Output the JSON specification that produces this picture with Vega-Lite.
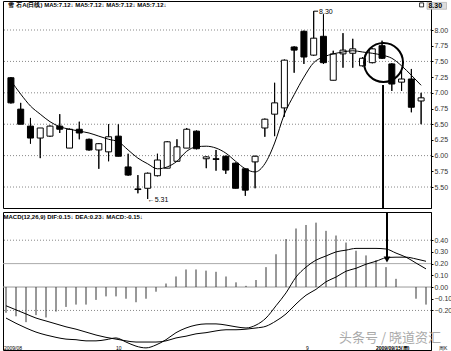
{
  "$schema": "https://vega.github.io/schema/vega-lite/v6.json",
  "padding": {"left": 2, "top": 0, "right": 0, "bottom": 0},
  "background": "white",
  "spacing": 0,
  "config": {
    "view": {"stroke": "#000", "strokeWidth": 1},
    "font": "Liberation Sans",
    "text": {"font": "Liberation Sans"}
  },
  "datasets": {
    "k": [
      {"i": 1, "open": 7.24, "close": 6.84, "high": 7.25, "low": 6.83, "ma": 7.19, "macd": -0.22, "dif": -0.265, "dea": -0.16},
      {"i": 2, "open": 6.74, "close": 6.50, "high": 6.84, "low": 6.50, "ma": 6.98, "macd": -0.25, "dif": -0.31, "dea": -0.195},
      {"i": 3, "open": 6.47, "close": 6.28, "high": 6.60, "low": 6.19, "ma": 6.79, "macd": -0.30, "dif": -0.35, "dea": -0.23},
      {"i": 4, "open": 6.28, "close": 6.44, "high": 6.44, "low": 5.96, "ma": 6.66, "macd": -0.24, "dif": -0.385, "dea": -0.265},
      {"i": 5, "open": 6.31, "close": 6.47, "high": 6.48, "low": 6.30, "ma": 6.54, "macd": -0.26, "dif": -0.41, "dea": -0.29},
      {"i": 6, "open": 6.47, "close": 6.42, "high": 6.66, "low": 6.36, "ma": 6.46, "macd": -0.21, "dif": -0.43, "dea": -0.315},
      {"i": 7, "open": 6.12, "close": 6.42, "high": 6.43, "low": 6.12, "ma": 6.42, "macd": -0.17, "dif": -0.445, "dea": -0.34},
      {"i": 8, "open": 6.42, "close": 6.36, "high": 6.54, "low": 6.26, "ma": 6.39, "macd": -0.15, "dif": -0.45, "dea": -0.36},
      {"i": 9, "open": 6.26, "close": 6.09, "high": 6.27, "low": 6.08, "ma": 6.36, "macd": -0.15, "dif": -0.46, "dea": -0.385},
      {"i": 10, "open": 6.09, "close": 6.19, "high": 6.20, "low": 5.79, "ma": 6.31, "macd": -0.11, "dif": -0.46, "dea": -0.41},
      {"i": 11, "open": 6.06, "close": 6.30, "high": 6.50, "low": 5.91, "ma": 6.26, "macd": -0.08, "dif": -0.45, "dea": -0.43},
      {"i": 12, "open": 6.31, "close": 5.99, "high": 6.50, "low": 5.99, "ma": 6.22, "macd": -0.08, "dif": -0.435, "dea": -0.445},
      {"i": 13, "open": 5.82, "close": 5.69, "high": 6.03, "low": 5.68, "ma": 6.09, "macd": -0.10, "dif": -0.47, "dea": -0.46},
      {"i": 14, "open": 5.47, "close": 5.46, "high": 5.69, "low": 5.40, "ma": 5.96, "macd": -0.13, "dif": -0.505, "dea": -0.47},
      {"i": 15, "open": 5.48, "close": 5.72, "high": 5.73, "low": 5.31, "ma": 5.87, "macd": -0.10, "dif": -0.52, "dea": -0.47},
      {"i": 16, "open": 5.68, "close": 5.93, "high": 6.03, "low": 5.67, "ma": 5.79, "macd": -0.04, "dif": -0.495, "dea": -0.47},
      {"i": 17, "open": 5.80, "close": 6.22, "high": 6.23, "low": 5.80, "ma": 5.82, "macd": 0.03, "dif": -0.45, "dea": -0.46},
      {"i": 18, "open": 5.91, "close": 6.14, "high": 6.26, "low": 5.91, "ma": 5.91, "macd": 0.09, "dif": -0.39, "dea": -0.435},
      {"i": 19, "open": 6.12, "close": 6.42, "high": 6.44, "low": 6.12, "ma": 6.07, "macd": 0.15, "dif": -0.35, "dea": -0.42},
      {"i": 20, "open": 6.39, "close": 6.11, "high": 6.40, "low": 6.10, "ma": 6.14, "macd": 0.15, "dif": -0.325, "dea": -0.40},
      {"i": 21, "open": 5.95, "close": 5.98, "high": 5.99, "low": 5.80, "ma": 6.15, "macd": 0.14, "dif": -0.315, "dea": -0.39},
      {"i": 22, "open": 5.95, "close": 5.94, "high": 6.09, "low": 5.76, "ma": 6.12, "macd": 0.13, "dif": -0.315, "dea": -0.375},
      {"i": 23, "open": 5.99, "close": 5.77, "high": 6.00, "low": 5.71, "ma": 6.04, "macd": 0.09, "dif": -0.325, "dea": -0.365},
      {"i": 24, "open": 5.88, "close": 5.48, "high": 5.89, "low": 5.48, "ma": 5.91, "macd": 0.04, "dif": -0.34, "dea": -0.365},
      {"i": 25, "open": 5.79, "close": 5.45, "high": 5.79, "low": 5.36, "ma": 5.79, "macd": 0.01, "dif": -0.35, "dea": -0.36},
      {"i": 26, "open": 5.90, "close": 5.99, "high": 6.00, "low": 5.48, "ma": 5.74, "macd": 0.06, "dif": -0.325, "dea": -0.35},
      {"i": 27, "open": 6.44, "close": 6.58, "high": 6.59, "low": 6.30, "ma": 5.87, "macd": 0.17, "dif": -0.265, "dea": -0.335},
      {"i": 28, "open": 6.66, "close": 6.84, "high": 7.16, "low": 6.31, "ma": 6.20, "macd": 0.28, "dif": -0.16, "dea": -0.29},
      {"i": 29, "open": 6.76, "close": 7.52, "high": 7.53, "low": 6.62, "ma": 6.66, "macd": 0.41, "dif": -0.05, "dea": -0.23},
      {"i": 30, "open": 7.73, "close": 7.68, "high": 7.74, "low": 7.32, "ma": 6.97, "macd": 0.50, "dif": 0.085, "dea": -0.145},
      {"i": 31, "open": 7.98, "close": 7.57, "high": 7.99, "low": 7.46, "ma": 7.25, "macd": 0.53, "dif": 0.17, "dea": -0.07},
      {"i": 32, "open": 7.60, "close": 7.87, "high": 8.30, "low": 7.59, "ma": 7.48, "macd": 0.55, "dif": 0.23, "dea": -0.02},
      {"i": 33, "open": 7.90, "close": 7.48, "high": 8.25, "low": 7.46, "ma": 7.57, "macd": 0.48, "dif": 0.265, "dea": 0.045},
      {"i": 34, "open": 7.20, "close": 7.62, "high": 7.67, "low": 7.20, "ma": 7.62, "macd": 0.44, "dif": 0.30, "dea": 0.085},
      {"i": 35, "open": 7.62, "close": 7.68, "high": 7.95, "low": 7.40, "ma": 7.65, "macd": 0.38, "dif": 0.315, "dea": 0.135},
      {"i": 36, "open": 7.63, "close": 7.70, "high": 7.86, "low": 7.40, "ma": 7.67, "macd": 0.31, "dif": 0.33, "dea": 0.16},
      {"i": 37, "open": 7.43, "close": 7.55, "high": 7.57, "low": 7.42, "ma": 7.65, "macd": 0.27, "dif": 0.33, "dea": 0.195},
      {"i": 38, "open": 7.48, "close": 7.70, "high": 7.71, "low": 7.47, "ma": 7.63, "macd": 0.23, "dif": 0.33, "dea": 0.22},
      {"i": 39, "open": 7.75, "close": 7.55, "high": 7.83, "low": 7.54, "ma": 7.60, "macd": 0.17, "dif": 0.325, "dea": 0.25},
      {"i": 40, "open": 7.46, "close": 7.14, "high": 7.47, "low": 7.03, "ma": 7.55, "macd": 0.07, "dif": 0.29, "dea": 0.255},
      {"i": 41, "open": 7.17, "close": 7.22, "high": 7.35, "low": 7.03, "ma": 7.43, "macd": 0.0, "dif": 0.255, "dea": 0.255},
      {"i": 42, "open": 7.22, "close": 6.77, "high": 7.38, "low": 6.69, "ma": 7.28, "macd": -0.10, "dif": 0.205, "dea": 0.24},
      {"i": 43, "open": 6.87, "close": 6.92, "high": 7.00, "low": 6.50, "ma": 7.12, "macd": -0.15, "dif": 0.155, "dea": 0.22}
    ]
  },
  "vconcat": [
    {
      "width": 428,
      "height": 207,
      "resolve": {"axis": {"y": "independent"}},
      "layer": [
        {
          "data": {"name": "k"},
          "mark": {"type": "rule", "color": "#000", "strokeWidth": 1},
          "encoding": {
            "x": {"field": "i", "type": "quantitative", "scale": {"domain": [0.7, 43.5], "nice": false, "zero": false}, "axis": null},
            "y": {"field": "low", "type": "quantitative", "scale": {"domain": [5.166, 8.462], "nice": false, "zero": false},
              "axis": {"orient": "right", "title": null, "values": [5.5, 5.75, 6, 6.25, 6.5, 6.75, 7, 7.25, 7.5, 7.75, 8], "format": ".2f",
                "labelFontSize": 7, "labelColor": "#333", "tickSize": 2, "tickColor": "#000", "domainColor": "#000", "labelPadding": 1, "grid": false}},
            "y2": {"field": "high"}
          }
        },
        {"data": {"values": [{}]}, "mark": {"type": "rule", "color": "#888", "strokeWidth": 1, "strokeDash": [1, 2]},
          "encoding": {"y": {"datum": 8.0, "type": "quantitative", "scale": {"domain": [5.166, 8.462], "nice": false, "zero": false}, "axis": null}}},
        {"data": {"values": [{}]}, "mark": {"type": "rule", "color": "#888", "strokeWidth": 1, "strokeDash": [1, 2]},
          "encoding": {"y": {"datum": 7.5, "type": "quantitative", "scale": {"domain": [5.166, 8.462], "nice": false, "zero": false}, "axis": null}}},
        {"data": {"values": [{}]}, "mark": {"type": "rule", "color": "#888", "strokeWidth": 1, "strokeDash": [1, 2]},
          "encoding": {"y": {"datum": 7.0, "type": "quantitative", "scale": {"domain": [5.166, 8.462], "nice": false, "zero": false}, "axis": null}}},
        {"data": {"values": [{}]}, "mark": {"type": "rule", "color": "#888", "strokeWidth": 1, "strokeDash": [1, 2]},
          "encoding": {"y": {"datum": 6.5, "type": "quantitative", "scale": {"domain": [5.166, 8.462], "nice": false, "zero": false}, "axis": null}}},
        {"data": {"values": [{}]}, "mark": {"type": "rule", "color": "#888", "strokeWidth": 1, "strokeDash": [1, 2]},
          "encoding": {"y": {"datum": 6.0, "type": "quantitative", "scale": {"domain": [5.166, 8.462], "nice": false, "zero": false}, "axis": null}}},
        {"data": {"values": [{}]}, "mark": {"type": "rule", "color": "#888", "strokeWidth": 1, "strokeDash": [1, 2]},
          "encoding": {"y": {"datum": 5.5, "type": "quantitative", "scale": {"domain": [5.166, 8.462], "nice": false, "zero": false}, "axis": null}}},
        {
          "data": {"name": "k"},
          "mark": {"type": "rule", "color": "#000", "strokeWidth": 1},
          "encoding": {
            "x": {"field": "i", "type": "quantitative", "scale": {"domain": [0.7, 43.5], "nice": false, "zero": false}, "axis": null},
            "y": {"field": "low", "type": "quantitative", "scale": {"domain": [5.166, 8.462], "nice": false, "zero": false}, "axis": null},
            "y2": {"field": "high"}
          }
        },
        {
          "data": {"name": "k"},
          "mark": {"type": "bar", "size": 6, "stroke": "#000", "strokeWidth": 1},
          "encoding": {
            "x": {"field": "i", "type": "quantitative", "scale": {"domain": [0.7, 43.5], "nice": false, "zero": false}, "axis": null},
            "y": {"field": "open", "type": "quantitative", "scale": {"domain": [5.166, 8.462], "nice": false, "zero": false}, "axis": null},
            "y2": {"field": "close"},
            "fill": {"condition": {"test": "datum.close < datum.open", "value": "#000"}, "value": "#fff"}
          }
        },
        {
          "data": {"name": "k"},
          "mark": {"type": "line", "color": "#000", "strokeWidth": 1, "interpolate": "monotone"},
          "encoding": {
            "x": {"field": "i", "type": "quantitative", "scale": {"domain": [0.7, 43.5], "nice": false, "zero": false}, "axis": null},
            "y": {"field": "ma", "type": "quantitative", "scale": {"domain": [5.166, 8.462], "nice": false, "zero": false}, "axis": null}
          }
        },
        {
          "data": {"values": [{}]},
          "mark": {"type": "point", "shape": "circle", "filled": false, "stroke": "#000", "strokeWidth": 2, "size": 1520, "opacity": 1},
          "encoding": {
            "x": {"datum": 39.15, "type": "quantitative", "scale": {"domain": [0.7, 43.5], "nice": false, "zero": false}, "axis": null},
            "y": {"datum": 7.482, "type": "quantitative", "scale": {"domain": [5.166, 8.462], "nice": false, "zero": false}, "axis": null}
          }
        },
        {
          "data": {"values": [{}]},
          "mark": {"type": "rule", "color": "#000", "strokeWidth": 2},
          "encoding": {
            "x": {"datum": 39.1, "type": "quantitative", "scale": {"domain": [0.7, 43.5], "nice": false, "zero": false}, "axis": null},
            "y": {"datum": 7.124, "type": "quantitative", "scale": {"domain": [5.166, 8.462], "nice": false, "zero": false}, "axis": null},
            "y2": {"datum": 5.166}
          }
        },
        {
          "data": {"values": [{}]},
          "mark": {"type": "rule", "color": "#000", "strokeWidth": 1},
          "encoding": {
            "x": {"datum": 32, "type": "quantitative", "scale": {"domain": [0.7, 43.5], "nice": false, "zero": false}, "axis": null},
            "x2": {"datum": 32.45},
            "y": {"datum": 8.3, "type": "quantitative", "scale": {"domain": [5.166, 8.462], "nice": false, "zero": false}, "axis": null}
          }
        },
        {
          "data": {"values": [{}]},
          "mark": {"type": "text", "align": "left", "baseline": "middle", "fontSize": 7, "color": "#000"},
          "encoding": {
            "x": {"datum": 32.55, "type": "quantitative", "scale": {"domain": [0.7, 43.5], "nice": false, "zero": false}, "axis": null},
            "y": {"datum": 8.285, "type": "quantitative", "scale": {"domain": [5.166, 8.462], "nice": false, "zero": false}, "axis": null},
            "text": {"value": "8.30"}
          }
        },
        {
          "data": {"values": [{}]},
          "mark": {"type": "text", "align": "left", "baseline": "middle", "fontSize": 7, "color": "#000"},
          "encoding": {
            "x": {"datum": 15.0, "type": "quantitative", "scale": {"domain": [0.7, 43.5], "nice": false, "zero": false}, "axis": null},
            "y": {"datum": 5.3, "type": "quantitative", "scale": {"domain": [5.166, 8.462], "nice": false, "zero": false}, "axis": null},
            "text": {"value": "←5.31"}
          }
        },
        {
          "data": {"values": [{}]},
          "mark": {"type": "text", "align": "left", "baseline": "middle", "fontSize": 6, "color": "#000", "fontWeight": "bold"},
          "encoding": {
            "x": {"datum": 0.75, "type": "quantitative", "scale": {"domain": [0.7, 43.5], "nice": false, "zero": false}, "axis": null},
            "y": {"datum": 8.395, "type": "quantitative", "scale": {"domain": [5.166, 8.462], "nice": false, "zero": false}, "axis": null},
            "text": {"value": "雪 石A(日线) MA5:7.12↓  MA5:7.12↓  MA5:7.12↓  MA5:7.12↓"}
          }
        },
        {
          "data": {"values": [{}]},
          "mark": {"type": "rect", "fill": "#ddd", "stroke": "#999", "strokeWidth": 0.5},
          "encoding": {
            "x": {"datum": 43.6, "type": "quantitative", "scale": {"domain": [0.7, 43.5], "nice": false, "zero": false}, "axis": null},
            "x2": {"datum": 45.6},
            "y": {"datum": 8.44, "type": "quantitative", "scale": {"domain": [5.166, 8.462], "nice": false, "zero": false}, "axis": null},
            "y2": {"datum": 8.33}
          }
        },
        {
          "data": {"values": [{}]},
          "mark": {"type": "text", "align": "left", "baseline": "middle", "fontSize": 7, "color": "#000", "fontWeight": "bold"},
          "encoding": {
            "x": {"datum": 43.75, "type": "quantitative", "scale": {"domain": [0.7, 43.5], "nice": false, "zero": false}, "axis": null},
            "y": {"datum": 8.385, "type": "quantitative", "scale": {"domain": [5.166, 8.462], "nice": false, "zero": false}, "axis": null},
            "text": {"value": "8.30"}
          }
        },
        {
          "data": {"values": [{}]},
          "mark": {"type": "point", "shape": "square", "filled": false, "stroke": "#000", "strokeWidth": 0.8, "size": 16, "opacity": 1},
          "encoding": {
            "x": {"datum": 43.05, "type": "quantitative", "scale": {"domain": [0.7, 43.5], "nice": false, "zero": false}, "axis": null},
            "y": {"datum": 8.40, "type": "quantitative", "scale": {"domain": [5.166, 8.462], "nice": false, "zero": false}, "axis": null}
          }
        }
      ]
    },
    {
      "width": 428,
      "height": 138,
      "resolve": {"axis": {"y": "independent"}},
      "layer": [
        {
          "data": {"values": [{}]},
          "mark": {"type": "rule", "color": "#999", "strokeWidth": 1},
          "encoding": {
            "y": {"datum": 0, "type": "quantitative", "scale": {"domain": [-0.538, 0.641], "nice": false, "zero": false},
              "axis": {"orient": "right", "title": null, "values": [-0.2, -0.1, 0, 0.1, 0.2, 0.3, 0.4], "format": ".2f",
                "labelFontSize": 7, "labelColor": "#333", "tickSize": 2, "tickColor": "#000", "domainColor": "#000", "labelPadding": 1, "grid": false}}
          }
        },
        {"data": {"values": [{}]}, "mark": {"type": "rule", "color": "#888", "strokeWidth": 1, "strokeDash": [1, 2]},
          "encoding": {"y": {"datum": 0.4, "type": "quantitative", "scale": {"domain": [-0.538, 0.641], "nice": false, "zero": false}, "axis": null}}},
        {"data": {"values": [{}]}, "mark": {"type": "rule", "color": "#aaa", "strokeWidth": 1},
          "encoding": {"y": {"datum": 0.2, "type": "quantitative", "scale": {"domain": [-0.538, 0.641], "nice": false, "zero": false}, "axis": null}}},
        {"data": {"values": [{}]}, "mark": {"type": "rule", "color": "#888", "strokeWidth": 1, "strokeDash": [1, 2]},
          "encoding": {"y": {"datum": -0.2, "type": "quantitative", "scale": {"domain": [-0.538, 0.641], "nice": false, "zero": false}, "axis": null}}},
        {
          "data": {"name": "k"},
          "mark": {"type": "rule", "color": "#333", "strokeWidth": 1},
          "encoding": {
            "x": {"field": "i", "type": "quantitative", "scale": {"domain": [0.7, 43.5], "nice": false, "zero": false}, "axis": null},
            "y": {"field": "macd", "type": "quantitative", "scale": {"domain": [-0.538, 0.641], "nice": false, "zero": false}, "axis": null},
            "y2": {"datum": 0}
          }
        },
        {
          "data": {"name": "k"},
          "mark": {"type": "line", "color": "#000", "strokeWidth": 1, "interpolate": "monotone"},
          "encoding": {
            "x": {"field": "i", "type": "quantitative", "scale": {"domain": [0.7, 43.5], "nice": false, "zero": false}, "axis": null},
            "y": {"field": "dif", "type": "quantitative", "scale": {"domain": [-0.538, 0.641], "nice": false, "zero": false}, "axis": null}
          }
        },
        {
          "data": {"name": "k"},
          "mark": {"type": "line", "color": "#000", "strokeWidth": 1, "interpolate": "monotone"},
          "encoding": {
            "x": {"field": "i", "type": "quantitative", "scale": {"domain": [0.7, 43.5], "nice": false, "zero": false}, "axis": null},
            "y": {"field": "dea", "type": "quantitative", "scale": {"domain": [-0.538, 0.641], "nice": false, "zero": false}, "axis": null}
          }
        },
        {
          "data": {"values": [{}]},
          "mark": {"type": "rule", "color": "#000", "strokeWidth": 2},
          "encoding": {
            "x": {"datum": 39.1, "type": "quantitative", "scale": {"domain": [0.7, 43.5], "nice": false, "zero": false}, "axis": null},
            "y": {"datum": 0.641, "type": "quantitative", "scale": {"domain": [-0.538, 0.641], "nice": false, "zero": false}, "axis": null},
            "y2": {"datum": 0.25}
          }
        },
        {
          "data": {"values": [{}]},
          "mark": {"type": "point", "shape": "triangle-down", "filled": true, "color": "#000", "size": 45, "opacity": 1},
          "encoding": {
            "x": {"datum": 39.1, "type": "quantitative", "scale": {"domain": [0.7, 43.5], "nice": false, "zero": false}, "axis": null},
            "y": {"datum": 0.235, "type": "quantitative", "scale": {"domain": [-0.538, 0.641], "nice": false, "zero": false}, "axis": null}
          }
        },
        {
          "data": {"values": [{}]},
          "mark": {"type": "text", "align": "left", "baseline": "middle", "fontSize": 6, "color": "#000", "fontWeight": "bold"},
          "encoding": {
            "x": {"datum": 0.75, "type": "quantitative", "scale": {"domain": [0.7, 43.5], "nice": false, "zero": false}, "axis": null},
            "y": {"datum": 0.598, "type": "quantitative", "scale": {"domain": [-0.538, 0.641], "nice": false, "zero": false}, "axis": null},
            "text": {"value": "MACD(12,26,9)  DIF:0.15↓  DEA:0.23↓  MACD:-0.15↓"}
          }
        },
        {
          "data": {"values": [{}]},
          "mark": {"type": "text", "align": "left", "baseline": "middle", "fontSize": 13, "color": "#aaa", "font": "Noto Sans CJK SC"},
          "encoding": {
            "x": {"datum": 34.3, "type": "quantitative", "scale": {"domain": [0.7, 43.5], "nice": false, "zero": false}, "axis": null},
            "y": {"datum": -0.435, "type": "quantitative", "scale": {"domain": [-0.538, 0.641], "nice": false, "zero": false}, "axis": null},
            "text": {"value": "头条号 / 晓道资汇"}
          }
        },
        {
          "data": {"values": [{}]},
          "mark": {"type": "text", "align": "left", "baseline": "middle", "fontSize": 5, "color": "#000"},
          "encoding": {
            "x": {"datum": 0.8, "type": "quantitative", "scale": {"domain": [0.7, 43.5], "nice": false, "zero": false}, "axis": null},
            "y": {"datum": -0.525, "type": "quantitative", "scale": {"domain": [-0.538, 0.641], "nice": false, "zero": false}, "axis": null},
            "text": {"value": "2009/08"}
          }
        },
        {
          "data": {"values": [{}]},
          "mark": {"type": "text", "align": "left", "baseline": "middle", "fontSize": 5, "color": "#000"},
          "encoding": {
            "x": {"datum": 12.0, "type": "quantitative", "scale": {"domain": [0.7, 43.5], "nice": false, "zero": false}, "axis": null},
            "y": {"datum": -0.525, "type": "quantitative", "scale": {"domain": [-0.538, 0.641], "nice": false, "zero": false}, "axis": null},
            "text": {"value": "10"}
          }
        },
        {
          "data": {"values": [{}]},
          "mark": {"type": "text", "align": "left", "baseline": "middle", "fontSize": 5, "color": "#000"},
          "encoding": {
            "x": {"datum": 31.0, "type": "quantitative", "scale": {"domain": [0.7, 43.5], "nice": false, "zero": false}, "axis": null},
            "y": {"datum": -0.525, "type": "quantitative", "scale": {"domain": [-0.538, 0.641], "nice": false, "zero": false}, "axis": null},
            "text": {"value": "9"}
          }
        },
        {
          "data": {"values": [{}]},
          "mark": {"type": "text", "align": "left", "baseline": "middle", "fontSize": 5, "color": "#000", "fontWeight": "bold"},
          "encoding": {
            "x": {"datum": 38.0, "type": "quantitative", "scale": {"domain": [0.7, 43.5], "nice": false, "zero": false}, "axis": null},
            "y": {"datum": -0.525, "type": "quantitative", "scale": {"domain": [-0.538, 0.641], "nice": false, "zero": false}, "axis": null},
            "text": {"value": "2009/09/15(周)"}
          }
        },
        {
          "data": {"values": [{}]},
          "mark": {"type": "text", "align": "left", "baseline": "middle", "fontSize": 5, "color": "#000"},
          "encoding": {
            "x": {"datum": 44.3, "type": "quantitative", "scale": {"domain": [0.7, 43.5], "nice": false, "zero": false}, "axis": null},
            "y": {"datum": -0.525, "type": "quantitative", "scale": {"domain": [-0.538, 0.641], "nice": false, "zero": false}, "axis": null},
            "text": {"value": "周K"}
          }
        }
      ]
    }
  ]
}
